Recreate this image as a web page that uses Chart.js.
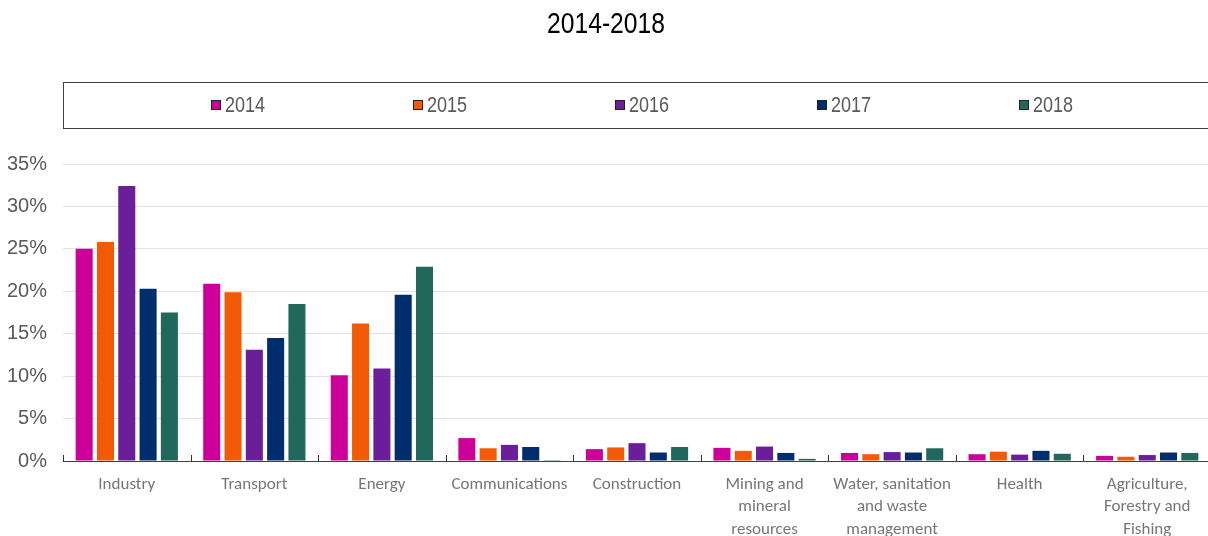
<!DOCTYPE html>
<html>
<head>
<meta charset="utf-8">
<script src="https://cdn.jsdelivr.net/npm/chart.js@4/dist/chart.umd.min.js"></script>
<style>
  html, body { margin: 0; padding: 0; background: #fff; overflow: hidden; width: 1208px; height: 536px; }
  #wrap { position: absolute; left: 0; top: 0; width: 1230px; height: 536px; }
</style>
</head>
<body>
<div id="wrap"><canvas id="sector-chart" width="1230" height="536"></canvas></div>
<script>
  'use strict';

  const categories = [
    'Industry', 'Transport', 'Energy', 'Communications', 'Construction',
    ['Mining and', 'mineral', 'resources'],
    ['Water, sanitation', 'and waste', 'management'],
    'Health',
    ['Agriculture,', 'Forestry and', 'Fishing']
  ];
  const years = ['2014', '2015', '2016', '2017', '2018'];
  const colors = ['#CC0099', '#F25A05', '#6A1E9A', '#002D6B', '#1F685B'];

  // share of total, in percent
  const values2014 = [25.0, 20.9, 10.1, 2.7, 1.4, 1.55, 0.95, 0.8, 0.6];
  const values2015 = [25.8, 19.9, 16.2, 1.5, 1.6, 1.2, 0.8, 1.1, 0.5];
  const values2016 = [32.4, 13.1, 10.9, 1.9, 2.1, 1.7, 1.05, 0.75, 0.7];
  const values2017 = [20.3, 14.5, 19.6, 1.65, 1.0, 0.95, 1.0, 1.2, 1.0];
  const values2018 = [17.5, 18.5, 22.9, 0.1, 1.65, 0.25, 1.5, 0.85, 0.95];
  const yTicks = [0, 5, 10, 15, 20, 25, 30, 35];

  const seriesValues = [values2014, values2015, values2016, values2017, values2018];

  const narrow = '"Liberation Sans Narrow", "Liberation Sans", Arial, sans-serif';
  const labelFont = 'Carlito, Lato, "Open Sans", sans-serif';

  // squeeze text horizontally, the original uses a condensed face
  function narrowText(ctx, text, x, y, squeeze, align) {
    ctx.save();
    ctx.translate(x, y);
    ctx.scale(squeeze, 1);
    ctx.textAlign = align;
    ctx.fillText(text, 0, 0);
    ctx.restore();
  }

  // title and boxed legend drawn by hand, the box runs off the right edge
  const headerPlugin = {
    id: 'header',
    afterDraw(chart) {
      const ctx = chart.ctx;
      ctx.save();
      ctx.fillStyle = '#000';
      ctx.font = '29px ' + narrow;
      ctx.textBaseline = 'middle';
      narrowText(ctx, '2014-2018', 606, 25, 0.85, 'center');

      ctx.strokeStyle = '#404040';
      ctx.lineWidth = 1;
      ctx.strokeRect(63.5, 82.5, 1180, 46);

      ctx.font = '22px ' + narrow;
      chart.data.datasets.forEach((ds, i) => {
        const x = 211 + i * 202;
        ctx.fillStyle = ds.backgroundColor;
        ctx.fillRect(x, 100, 10, 10);
        ctx.strokeStyle = '#222';
        ctx.strokeRect(x + 0.5, 100.5, 9, 9);
        ctx.fillStyle = '#595959';
        narrowText(ctx, ds.label, x + 14, 106, 0.82, 'left');
      });

      // category separators: short marks rising from the baseline
      const xs = chart.scales.x;
      const area = chart.chartArea;
      const step = (area.right - area.left) / chart.data.labels.length;
      ctx.strokeStyle = '#333';
      ctx.beginPath();
      for (let i = 0; i <= chart.data.labels.length; i++) {
        const px = Math.round(xs.getPixelForValue(i) - step / 2) + 0.5;
        ctx.moveTo(px, area.bottom);
        ctx.lineTo(px, area.bottom - 6);
      }
      ctx.stroke();
      ctx.restore();
    }
  };

  const ctx = document.getElementById('sector-chart').getContext('2d');
  new Chart(ctx, {
    type: 'bar',
    data: {
      labels: categories,
      datasets: years.map((year, i) => ({
        label: year,
        data: seriesValues[i],
        backgroundColor: colors[i],
        borderWidth: 0,
        categoryPercentage: 0.835,
        barPercentage: 0.8
      }))
    },
    options: {
      responsive: false,
      animation: false,
      layout: { padding: { top: 164, right: 19, left: 0, bottom: 0 } },
      plugins: {
        legend: { display: false },
        title: { display: false },
        tooltip: { enabled: false }
      },
      scales: {
        x: {
          afterFit: (scale) => { scale.height = 75; },
          grid: { display: false },
          border: { display: true, color: '#404040', width: 1 },
          ticks: {
            color: '#767676',
            font: { family: labelFont, size: 17, lineHeight: 1.3 },
            padding: 5,
            maxRotation: 0,
            autoSkip: false
          }
        },
        y: {
          min: 0,
          max: 35,
          afterFit: (scale) => { scale.width = 63; },
          afterBuildTicks: (scale) => { scale.ticks = yTicks.map(v => ({ value: v })); },
          grid: { color: '#e2e2e2', drawTicks: false },
          border: { display: false },
          ticks: {
            color: '#595959',
            font: { family: narrow, size: 20 },
            padding: 16,
            callback: (v) => v + '%'
          }
        }
      }
    },
    plugins: [headerPlugin]
  });
</script>
</body>
</html>
